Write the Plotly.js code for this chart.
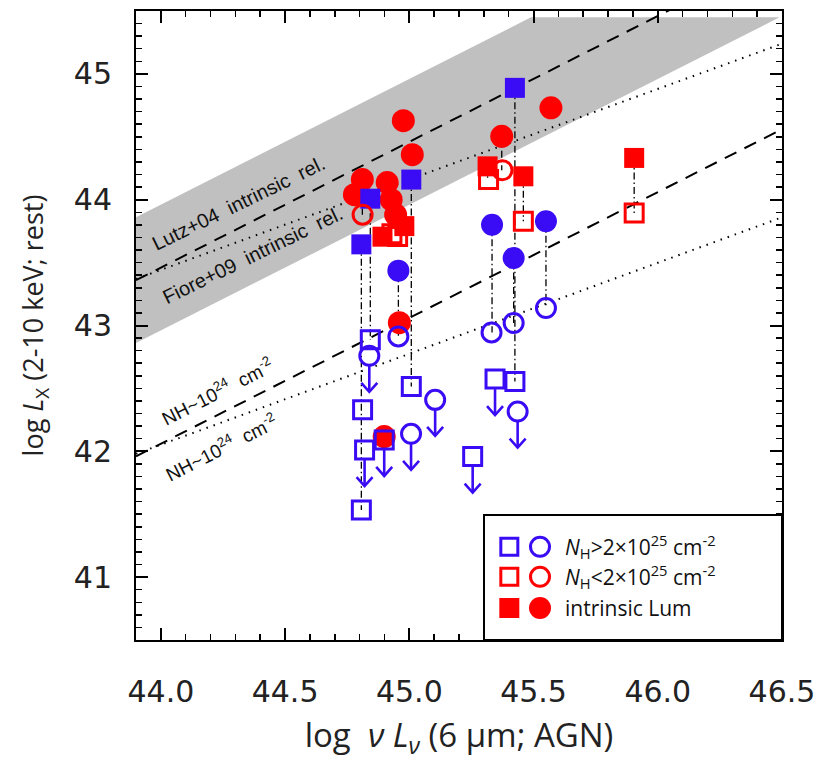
<!DOCTYPE html>
<html>
<head>
<meta charset="utf-8">
<script src="https://cdn.plot.ly/plotly-3.0.1.min.js"></script>
<style>html,body{margin:0;padding:0;background:#fff;}#chart{width:830px;height:771px;}</style>
</head>
<body>
<div id="chart"></div>
<script>
// ---------- data ----------
// Lutz+04 band (grey) and relation lines (endpoints)
const bandX = [43.9, 43.9, 45.49, 46.49];
const bandY = [42.86, 43.86, 45.45, 45.45];
const lutzX = [43.9, 46.5];
const lutzY = [43.36, 45.96];
const fioreX = [43.9, 46.5];
const fioreY = [43.37, 45.24];
const nhDashX = [43.9, 46.5];
const nhDashY = [41.96, 44.56];
const nhDotX = [43.9, 46.5];
const nhDotY = [41.98, 43.86];

// intrinsic luminosities (filled symbols)
const intBlueSqX = [44.807, 44.843, 45.008, 45.425];
const intBlueSqY = [43.645, 44.008, 44.160, 44.889];
const intBlueCiX = [44.956, 45.333, 45.420, 45.550];
const intBlueCiY = [43.436, 43.801, 43.537, 43.828];
const intRedSqX = [44.892, 44.980, 45.315, 45.459, 45.905];
const intRedSqY = [43.706, 43.790, 44.265, 44.186, 44.332];
const intRedCiX = [44.976, 45.012, 44.811, 44.779, 44.911, 44.927, 44.945, 44.960, 44.899, 45.372, 45.570];
const intRedCiY = [44.628, 44.358, 44.160, 44.040, 44.136, 44.000, 43.880, 43.022, 42.117, 44.504, 44.730];

// observed luminosities (open symbols); lim = 1 -> upper limit
const obsBlueSqX = [44.807, 44.812, 44.820, 44.843, 44.899, 45.008, 45.255, 45.345, 45.425];
const obsBlueSqY = [41.534, 42.330, 42.010, 42.887, 42.090, 42.515, 41.958, 42.574, 42.555];
const obsBlueSqLim = [0, 0, 1, 0, 1, 0, 1, 1, 0];
const obsBlueCiX = [44.839, 44.956, 45.007, 45.104, 45.331, 45.420, 45.550, 45.436];
const obsBlueCiY = [42.759, 42.913, 42.139, 42.409, 42.945, 43.020, 43.139, 42.316];
const obsBlueCiLim = [1, 0, 1, 1, 0, 0, 0, 1];
const obsRedSqX = [45.319, 45.459, 45.905, 44.953, 44.930];
const obsRedSqY = [44.160, 43.828, 43.895, 43.708, 43.730];
const obsRedCiX = [44.812, 45.375];
const obsRedCiY = [43.881, 44.234];

// intrinsic -> observed connectors
const linkX   = [44.807, 44.811, 44.843, 44.927, 44.946, 44.956, 45.008, 44.899, 45.315, 45.333, 45.372, 45.425, 45.420, 45.459, 45.550, 45.905];
const linkTop = [43.645, 44.160, 44.008, 44.000, 43.990, 43.436, 44.160, 42.117, 44.265, 43.801, 44.504, 44.889, 43.537, 44.186, 43.828, 44.332];
const linkBot = [41.534, 43.881, 42.887, 43.700, 43.730, 42.913, 42.515, 42.090, 44.160, 42.945, 44.234, 42.555, 43.020, 43.828, 43.139, 43.895];

// ---------- styling ----------
const BLUE = 'rgb(58,12,245)';
const RED = 'rgb(255,0,0)';
const X_RANGE = [43.9, 46.5], Y_RANGE = [40.5, 45.5];
const PLOT_W = 646, PLOT_H = 629;
const pxX = (X_RANGE[1] - X_RANGE[0]) / PLOT_W;   // data units per pixel
const pxY = (Y_RANGE[1] - Y_RANGE[0]) / PLOT_H;
const tickFont = {family: 'DejaVu Sans, sans-serif', size: 30, color: '#222'};
const lblFont = {family: 'Liberation Sans, Arial, sans-serif', size: 20, color: '#111'};

function sep(xs, y0, y1) {
  const X = [], Y = [];
  xs.forEach((x, i) => { X.push(x, x, null); Y.push(y0[i], y1[i], null); });
  return {X, Y};
}
const links = sep(linkX, linkTop, linkBot);

// upper-limit arrows: stem from the symbol edge, open V head (sizes in pixels)
const stemX = [], stemY = [], headX = [], headY = [];
function addLimits(xs, ys, lims) {
  xs.forEach((x, i) => {
    if (!lims[i]) return;
    const y0 = ys[i] - 10 * pxY, tip = ys[i] - 36 * pxY;
    stemX.push(x, x, null); stemY.push(y0, tip, null);
    headX.push(x - 8 * pxX, x, x + 8 * pxX, null);
    headY.push(tip + 9 * pxY, tip, tip + 9 * pxY, null);
  });
}
addLimits(obsBlueSqX, obsBlueSqY, obsBlueSqLim);
addLimits(obsBlueCiX, obsBlueCiY, obsBlueCiLim);

const traces = [
  {x: bandX, y: bandY, mode: 'lines', fill: 'toself', fillcolor: 'rgb(192,192,192)', line: {width: 0}, hoverinfo: 'skip'},
  {x: lutzX, y: lutzY, mode: 'lines', line: {color: 'black', width: 2, dash: '13px,9px'}},
  {x: fioreX, y: fioreY, mode: 'lines', line: {color: 'black', width: 2, dash: '1.5px,6px'}},
  {x: nhDashX, y: nhDashY, mode: 'lines', line: {color: 'black', width: 2, dash: '13px,9px'}},
  {x: nhDotX, y: nhDotY, mode: 'lines', line: {color: 'black', width: 2, dash: '1.5px,6px'}},
  {x: links.X, y: links.Y, mode: 'lines', line: {color: 'black', width: 1.3, dash: '7px,3px,1.5px,3px'}, connectgaps: false},
  {x: intRedCiX, y: intRedCiY, mode: 'markers', marker: {symbol: 'circle', size: 23, color: RED}},
  {x: intRedSqX, y: intRedSqY, mode: 'markers', marker: {symbol: 'square', size: 20, color: RED}},
  {x: intBlueCiX, y: intBlueCiY, mode: 'markers', marker: {symbol: 'circle', size: 22, color: BLUE}},
  {x: intBlueSqX, y: intBlueSqY, mode: 'markers', marker: {symbol: 'square', size: 20, color: BLUE}},
  {x: stemX, y: stemY, mode: 'lines', line: {color: BLUE, width: 2.6}, connectgaps: false},
  {x: headX, y: headY, mode: 'lines', line: {color: BLUE, width: 2.6}, connectgaps: false},
  {x: obsRedSqX, y: obsRedSqY, mode: 'markers', marker: {symbol: 'square-open', size: 18, color: RED, line: {width: 3, color: RED}}},
  {x: obsRedCiX, y: obsRedCiY, mode: 'markers', marker: {symbol: 'circle-open', size: 19, color: RED, line: {width: 3, color: RED}}},
  {x: obsBlueSqX, y: obsBlueSqY, mode: 'markers', marker: {symbol: 'square-open', size: 18, color: BLUE, line: {width: 3, color: BLUE}}},
  {x: obsBlueCiX, y: obsBlueCiY, mode: 'markers', marker: {symbol: 'circle-open', size: 19, color: BLUE, line: {width: 3, color: BLUE}}}
];

const annotations = [
  {x: 44.315, y: 43.97, xref: 'x', yref: 'y', text: 'Lutz+04  intrinsic  rel.', showarrow: false, textangle: -26, font: lblFont},
  {x: 44.37, y: 43.56, xref: 'x', yref: 'y', text: 'Fiore+09  intrinsic  rel.', showarrow: false, textangle: -26, font: lblFont},
  {x: 44.227, y: 42.48, xref: 'x', yref: 'y', text: 'NH~10<sup>24</sup>  cm<sup>-2</sup>', showarrow: false, textangle: -27, font: {family: lblFont.family, size: 19, color: '#111'}},
  {x: 44.243, y: 42.035, xref: 'x', yref: 'y', text: 'NH~10<sup>24</sup>  cm<sup>-2</sup>', showarrow: false, textangle: -27, font: {family: lblFont.family, size: 19, color: '#111'}}
];

// legend (drawn by hand: square + circle per row)
const legFont = {family: 'Open Sans, Noto Sans, sans-serif', size: 21, color: '#111'};
const legRows = [
  {y: 0.1483, text: '<i>N</i><sub>H</sub>>2×10<sup>25</sup> cm<sup>-2</sup>', color: BLUE, filled: false},
  {y: 0.1006, text: '<i>N</i><sub>H</sub><2×10<sup>25</sup> cm<sup>-2</sup>', color: RED, filled: false},
  {y: 0.0509, text: 'intrinsic Lum', color: RED, filled: true}
];
const shapes = [
  {type: 'rect', xref: 'paper', yref: 'paper', x0: 0.5387, x1: 1, y0: 0, y1: 0.1987, line: {color: 'black', width: 2}, fillcolor: 'white', layer: 'above'}
];
legRows.forEach(r => {
  const fill = r.filled ? r.color : 'rgba(0,0,0,0)';
  const lw = r.filled ? 0 : 3;
  shapes.push({type: 'rect', xref: 'paper', yref: 'paper', xsizemode: 'pixel', ysizemode: 'pixel', xanchor: 0.5779, yanchor: r.y,
    x0: r.filled ? -10 : -8.5, x1: r.filled ? 10 : 8.5, y0: r.filled ? -10 : -8.5, y1: r.filled ? 10 : 8.5, line: {color: r.color, width: lw}, fillcolor: fill, layer: 'above'});
  shapes.push({type: 'circle', xref: 'paper', yref: 'paper', xsizemode: 'pixel', ysizemode: 'pixel', xanchor: 0.6254, yanchor: r.y,
    x0: r.filled ? -11 : -9.5, x1: r.filled ? 11 : 9.5, y0: r.filled ? -11 : -9.5, y1: r.filled ? 11 : 9.5, line: {color: r.color, width: lw}, fillcolor: fill, layer: 'above'});
  annotations.push({xref: 'paper', yref: 'paper', x: 0.661, y: r.y, xanchor: 'left', yanchor: 'middle', text: r.text, showarrow: false, font: legFont});
});

const axisCommon = {
  showgrid: false, zeroline: false, showline: true, linecolor: 'black', linewidth: 2, mirror: 'allticks',
  ticks: 'inside', ticklen: 12, tickwidth: 2, tickcolor: 'black', tickfont: tickFont,
};

const layout = {
  width: 830, height: 771,
  margin: {l: 136, r: 48, t: 11, b: 131},
  paper_bgcolor: 'white', plot_bgcolor: 'white',
  showlegend: false,
  xaxis: Object.assign({}, axisCommon, {
    range: X_RANGE, tick0: 44, dtick: 0.5, tickformat: '.1f', ticklabelstandoff: 24,
    minor: {dtick: 0.1, ticks: 'inside', ticklen: 6, tickwidth: 1.5, tickcolor: 'black', showgrid: false},
    title: {text: 'log  <i>ν L<sub>ν</sub></i> (6 μm; AGN)', font: {family: 'Open Sans, Noto Sans, sans-serif', size: 33, color: '#222'}, standoff: 16}
  }),
  yaxis: Object.assign({}, axisCommon, {
    range: Y_RANGE, tick0: 41, dtick: 1, ticklabelstandoff: 16,
    minor: {dtick: 0.1, ticks: 'inside', ticklen: 6, tickwidth: 1.5, tickcolor: 'black', showgrid: false},
    title: {text: 'log <i>L</i><sub>X</sub> (2-10 keV; rest)', font: {family: 'Open Sans, Noto Sans, sans-serif', size: 27, color: '#222'}, standoff: 22}
  }),
  annotations: annotations,
  shapes: shapes
};

Plotly.newPlot('chart', traces, layout, {staticPlot: true, displayModeBar: false});
</script>
</body>
</html>
